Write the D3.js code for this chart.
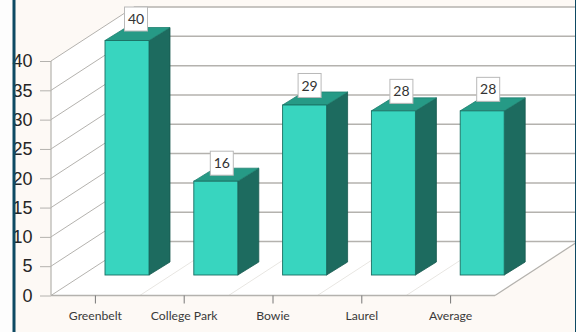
<!DOCTYPE html>
<html><head><meta charset="utf-8">
<script src="https://cdn.jsdelivr.net/npm/d3@7"></script>
<style>html,body{margin:0;padding:0;background:#fff;overflow:hidden}svg{display:block}</style>
</head><body><svg id="c" width="576" height="332"></svg>
<script>
const categories = ["Greenbelt","College Park","Bowie","Laurel","Average"];
const values = [40,16,29,28,28];
const yTicks = [0,5,10,15,20,25,30,35,40];
const labelNudge = [[3,-1.5],[0,2],[-1,0.5],[2,0.5],[0,-1.5]];

const svg = d3.select("#c");
const front = {x0:51,x1:495,y0:295.5,y40:61};
const wall = {dx:83,dy:-54};
const x = d3.scaleBand().domain(categories).range([front.x0,front.x1]);
const y = d3.scaleLinear().domain([0,40]).range([front.y0,front.y40]);
const barW = 44, barFront = 54, barFrontY = -20.5, depthX = 21, depthY = -13;
const FONT = "'Lato','Open Sans',sans-serif";

svg.append("rect").attr("width",576).attr("height",332).attr("fill","#fdf9f5");
svg.append("rect").attr("x",0).attr("width",13).attr("height",332).attr("fill","#fdfdfd");

// back wall and floor
const bx0 = front.x0+wall.dx, bx1 = 576;
svg.append("path").attr("fill","#fff")
  .attr("d",`M${bx0},${y(40)+wall.dy}H${bx1}V${y(0)+wall.dy}L${front.x1},${y(0)}H${front.x0}V${y(40)}Z`);

const grid = "#b4b2ae";
svg.append("g").selectAll("line.back").data(yTicks).join("line")
  .attr("x1",bx0).attr("x2",bx1)
  .attr("y1",d=>y(d)+wall.dy).attr("y2",d=>y(d)+wall.dy)
  .attr("stroke",grid).attr("stroke-width",1.5);
svg.append("g").selectAll("line.side").data(yTicks).join("line")
  .attr("x1",front.x0).attr("y1",d=>y(d))
  .attr("x2",bx0).attr("y2",d=>y(d)+wall.dy)
  .attr("stroke",grid).attr("stroke-width",1);
// floor dividers
svg.append("g").selectAll("line.fl").data(categories.slice(1)).join("line")
  .attr("x1",d=>x(d)).attr("y1",y(0))
  .attr("x2",d=>x(d)+wall.dx).attr("y2",y(0)+wall.dy)
  .attr("stroke","#e8e6e2").attr("stroke-width",1);
svg.append("line").attr("x1",front.x1).attr("y1",y(0))
  .attr("x2",front.x1+wall.dx).attr("y2",y(0)+wall.dy)
  .attr("stroke",grid).attr("stroke-width",1.2);

// axes
const yAxis = d3.axisLeft(y).tickValues(yTicks).tickSize(11).tickPadding(7.5);
const yg = svg.append("g").attr("transform",`translate(${front.x0},0)`).call(yAxis);
yg.select(".domain").attr("stroke",grid).attr("stroke-width",1.2).attr("d",`M0,${y(40)}V${y(0)}`);
yg.selectAll(".tick line").attr("stroke",grid);
yg.selectAll("text").attr("font-family","'Liberation Sans',Arial,sans-serif").attr("font-size",18).attr("fill","#262626");

const xAxis = d3.axisBottom(x).tickSize(8).tickPadding(8);
const xg = svg.append("g").attr("transform",`translate(0,${y(0)})`).call(xAxis);
xg.select(".domain").attr("stroke",grid).attr("stroke-width",1.5).attr("d",`M${front.x0},0H${front.x1}`);
xg.selectAll(".tick line").attr("stroke","#777");
xg.selectAll("text").attr("font-family",FONT).attr("font-size",12.2).attr("fill","#3a3a3a");

// bars
const bars = svg.append("g").selectAll("g").data(categories.map((c,i)=>({c,v:values[i],i}))).join("g");
const L = d=>x(d.c)+barFront, R = d=>L(d)+barW, B = ()=>y(0)+barFrontY, T = d=>y(d.v)+barFrontY;
const edge = "#1a6e62";
bars.append("path").attr("fill","#1d6b5f").attr("stroke","#17594f").attr("stroke-width",.8)
  .attr("d",d=>`M${R(d)},${T(d)}l${depthX},${depthY}V${B()+depthY}l${-depthX},${-depthY}Z`);
bars.append("path").attr("fill","#269a86").attr("stroke","#1f8070").attr("stroke-width",.8)
  .attr("d",d=>`M${L(d)},${T(d)}l${depthX},${depthY}H${R(d)+depthX}l${-depthX},${-depthY}Z`);
bars.append("rect").attr("x",L).attr("y",T).attr("width",barW).attr("height",d=>B()-T(d))
  .attr("fill","#38d5bf").attr("stroke",edge).attr("stroke-width",.9);

// value labels
const lab = bars.append("g").attr("transform",d=>`translate(${L(d)+barW/2+6+labelNudge[d.i][0]},${T(d)-20+labelNudge[d.i][1]})`);
lab.append("rect").attr("x",-11.5).attr("y",-12).attr("width",23).attr("height",24)
  .attr("fill","#fff").attr("stroke","#b9b9b9").attr("stroke-width",1);
lab.append("text").attr("text-anchor","middle").attr("dy","0.36em")
  .attr("font-family",FONT).attr("font-size",14).attr("fill","#333").text(d=>d.v);

// frame
svg.append("rect").attr("x",12.5).attr("width",3).attr("height",332).attr("fill","#0e4a63");
svg.append("rect").attr("x",575).attr("width",1).attr("height",332).attr("fill","#0e4a63");
</script></body></html>
